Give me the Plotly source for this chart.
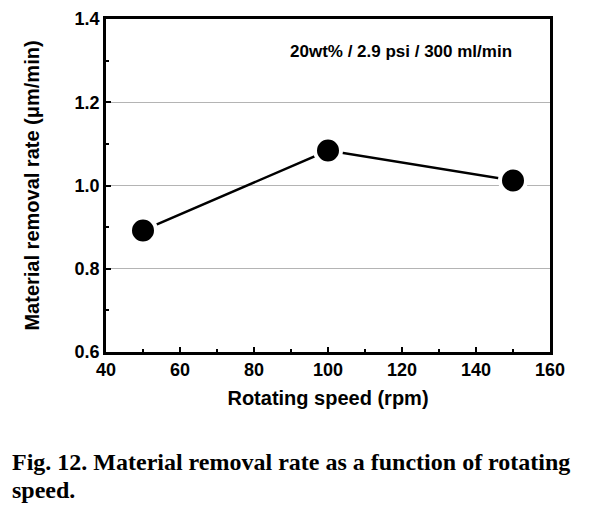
import plotly.graph_objects as go

speed = [50, 100, 150]
mrr = [0.892, 1.084, 1.012]
x_title = "Rotating speed (rpm)"
y_title = "Material removal rate (μm/min)"
condition = "20wt% / 2.9 psi / 300 ml/min"
caption_lines = ["Fig. 12. Material removal rate as a function of rotating", "speed."]

fig = go.Figure()
fig.add_trace(go.Scatter(
    x=speed, y=mrr, mode="lines+markers",
    line=dict(color="black", width=2.5),
    marker=dict(color="black", size=26, line=dict(color="white", width=4)),
    showlegend=False, cliponaxis=False,
))

SANS = "Liberation Sans, Arial, sans-serif"
fig.update_layout(
    width=595, height=510,
    margin=dict(l=98, r=53, t=11, b=166),
    paper_bgcolor="white", plot_bgcolor="white",
    font=dict(family=SANS, color="black"),
    xaxis=dict(
        range=[40, 160], tickvals=[40, 60, 80, 100, 120, 140, 160],
        ticks="inside", ticklen=5, tickwidth=2, tickcolor="black",
        minor=dict(tickvals=[50, 70, 90, 110, 130, 150], ticks="inside", ticklen=3, tickwidth=2, tickcolor="black"),
        showline=True, linecolor="black", linewidth=2.5, mirror=True,
        showgrid=False, zeroline=False, automargin=False,
        tickfont=dict(family=SANS, size=18, color="black", weight="bold"),
        title=dict(text="<b>" + x_title + "</b>", font=dict(family=SANS, size=20, color="black"), standoff=12),
    ),
    yaxis=dict(
        range=[0.6, 1.4], tickvals=[0.6, 0.8, 1.0, 1.2, 1.4], ticktext=["0.6", "0.8", "1.0", "1.2", "1.4"],
        ticks="inside", ticklen=5, tickwidth=2, tickcolor="black",
        minor=dict(tickvals=[0.7, 0.9, 1.1, 1.3], ticks="inside", ticklen=3, tickwidth=2, tickcolor="black"),
        showline=True, linecolor="black", linewidth=2.5, mirror=True,
        showgrid=True, gridcolor="#b4b4b4", gridwidth=1, zeroline=False, automargin=False,
        tickfont=dict(family=SANS, size=18, color="black", weight="bold"),
        title=dict(text="<b>" + y_title + "</b>", font=dict(family=SANS, size=20, color="black"), standoff=30),
    ),
)

fig.add_annotation(
    x=0.6655, y=0.901, xref="paper", yref="paper", xanchor="center", yanchor="middle",
    text="<b>" + condition + "</b>", showarrow=False,
    font=dict(family=SANS, size=17, color="black"),
)
for i, line in enumerate(caption_lines):
    fig.add_annotation(
        x=-0.216, y=-0.330 - 0.084 * i, xref="paper", yref="paper", xanchor="left", yanchor="middle",
        text="<b>" + line + "</b>", showarrow=False, align="left",
        font=dict(family="Liberation Serif, Times New Roman, serif", size=24, color="black"),
    )

fig.write_html("out.html")
